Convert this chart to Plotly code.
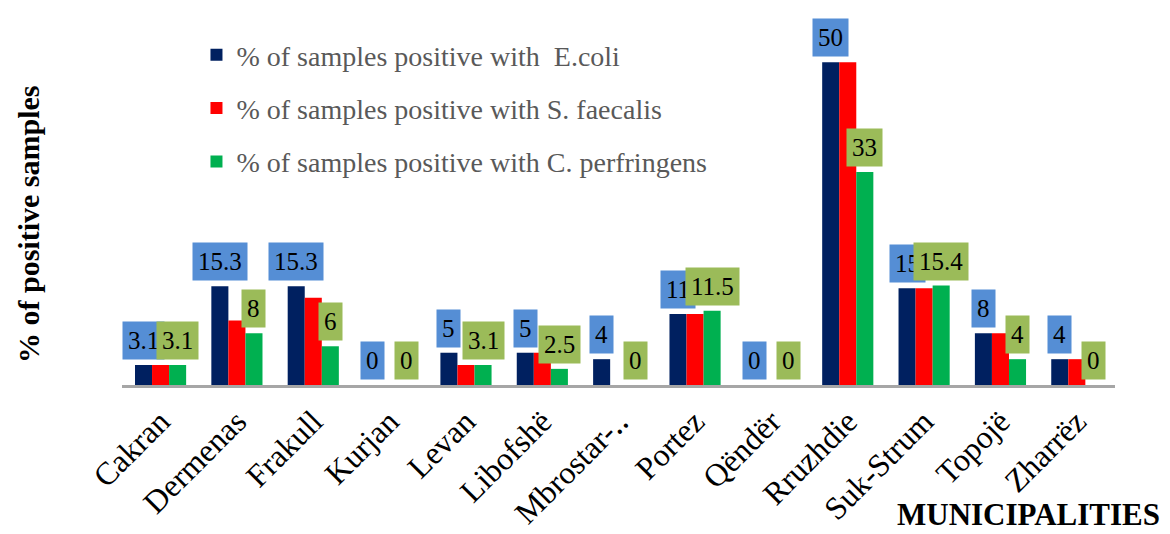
import plotly.graph_objects as go

municipalities = ["Cakran", "Dermenas", "Frakull", "Kurjan", "Levan", "Libofshë",
                  "Mbrostar-‥", "Portez", "Qëndër", "Rruzhdie", "Suk-Strum", "Topojë", "Zharrëz"]
ecoli = [3.1, 15.3, 15.3, 0, 5, 5, 4, 11, 0, 50, 15, 8, 4]
sfaecalis = [3.1, 10, 13.5, 0, 3.1, 5, 0, 11, 0, 50, 15, 8, 4]
cperf = [3.1, 8, 6, 0, 3.1, 2.5, 0, 11.5, 0, 33, 15.4, 4, 0]

series_names = ["% of samples positive with  E.coli",
                "% of samples positive with S. faecalis",
                "% of samples positive with C. perfringens"]
colors = ["#002060", "#FF0000", "#00B050"]

SERIF = "Times New Roman, Liberation Serif, Tinos, serif"

W, H = 1170, 534
ML, MR, MT, MB = 114, 63, 22, 157
BARGAP = 0.33

fig = go.Figure()
for name, vals, col in zip(series_names, [ecoli, sfaecalis, cperf], colors):
    fig.add_trace(go.Bar(
        x=municipalities, y=vals, name=name, legendgroup=name,
        marker=dict(color=col, line=dict(width=0)),
    ))

plot_w = W - ML - MR
plot_h = H - MT - MB
cat_w = plot_w / len(municipalities)
bar_w = cat_w * (1 - BARGAP) / 3

def fmt(v):
    return ("%g" % v)

annotations = []
for m, v in zip(municipalities, ecoli):
    annotations.append(dict(x=m, y=v, xref="x", yref="y", text=fmt(v), showarrow=False,
                            xshift=-bar_w, yshift=5, yanchor="bottom",
                            bgcolor="#558ED5", borderpad=5,
                            font=dict(family=SERIF, size=25, color="#000000")))
for m, v in zip(municipalities, cperf):
    annotations.append(dict(x=m, y=v, xref="x", yref="y", text=fmt(v), showarrow=False,
                            xshift=bar_w, yshift=5, yanchor="bottom",
                            bgcolor="#9BBB59", borderpad=5,
                            font=dict(family=SERIF, size=25, color="#000000")))

annotations.append(dict(text="<b>MUNICIPALITIES</b>", x=1, y=0, xref="paper", yref="paper",
                        xanchor="right", yanchor="top", xshift=47, yshift=-110,
                        showarrow=False,
                        font=dict(family=SERIF, size=31, color="#000000")))
annotations.append(dict(text="<b>% of positive samples</b>", x=0, y=(plot_h - 194) / plot_h,
                        xref="paper", yref="paper", xanchor="center", yanchor="middle",
                        xshift=-93, textangle=-90, showarrow=False,
                        font=dict(family=SERIF, size=30, color="#000000")))

fig.update_layout(
    width=W, height=H,
    margin=dict(l=ML, r=MR, t=MT, b=MB, autoexpand=False),
    paper_bgcolor="white", plot_bgcolor="white",
    barmode="group", bargap=BARGAP, bargroupgap=0,
    annotations=annotations,
    showlegend=True,
    legend=dict(x=0.075, y=1.0, xanchor="left", yanchor="top",
                traceorder="grouped", tracegroupgap=14,
                font=dict(family=SERIF, size=28, color="#595959"),
                bgcolor="rgba(0,0,0,0)", itemwidth=30),
    xaxis=dict(showgrid=False, showline=True, linecolor="#A6A6A6", linewidth=3,
               tickangle=-45, ticks="", automargin=False, ticklabelstandoff=2,
               ticklabeloverflow="allow",
               tickfont=dict(family=SERIF, size=32, color="#000000")),
    yaxis=dict(range=[0, 55], showgrid=False, showticklabels=False, zeroline=False,
               showline=False, ticks="", automargin=False),
)

fig.write_html("out.html")
